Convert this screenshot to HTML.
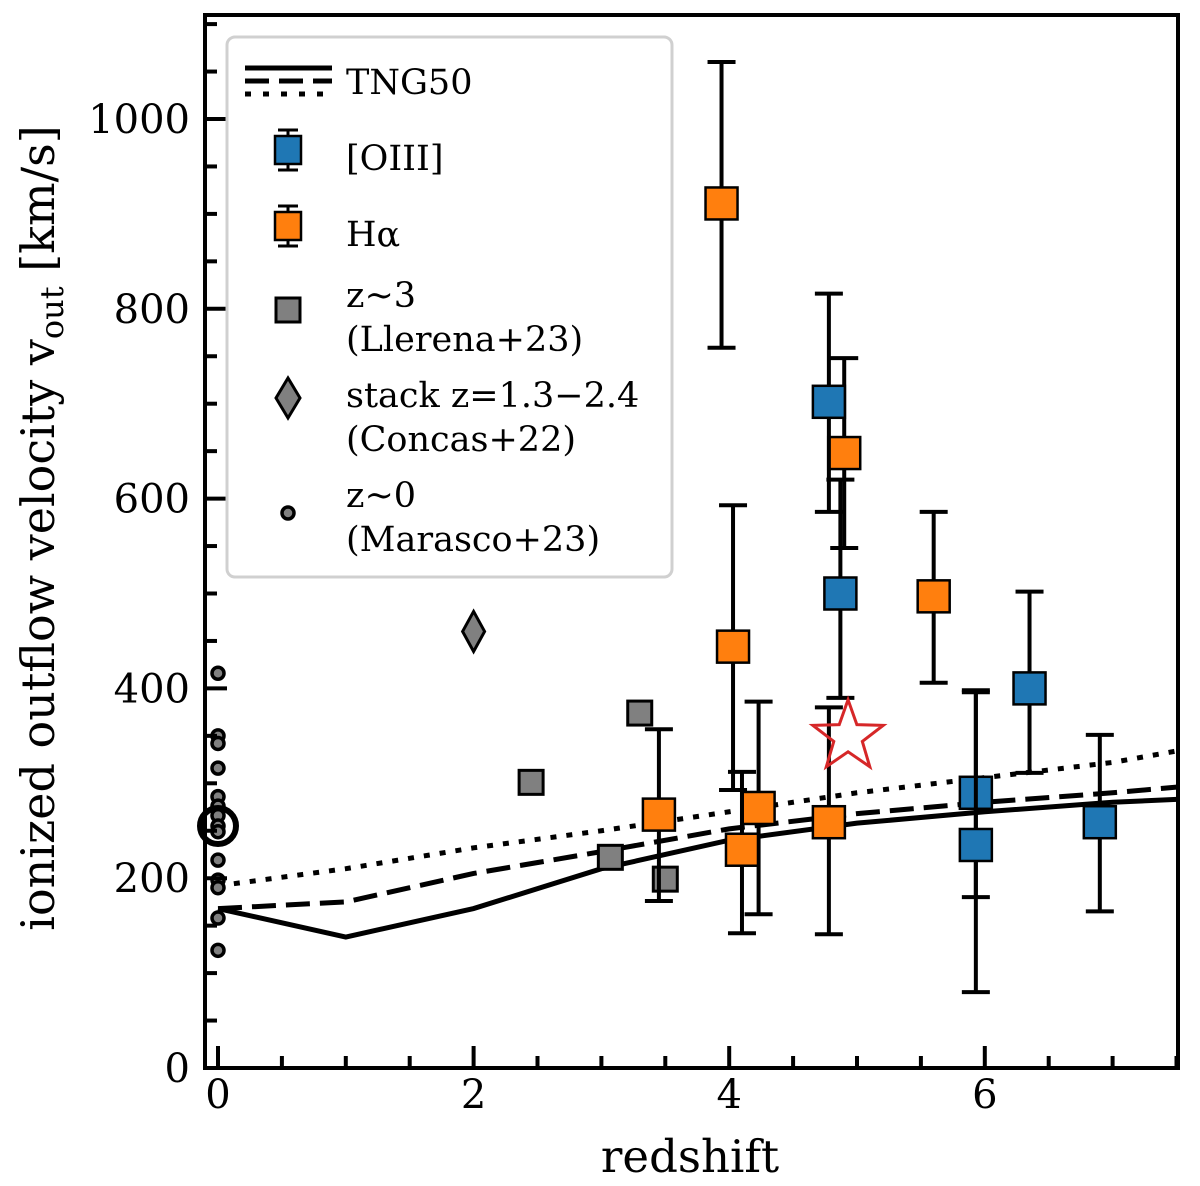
<!DOCTYPE html>
<html><head><meta charset="utf-8"><style>
html,body{margin:0;padding:0;background:#fff;}
svg text{font-family:"DejaVu Serif","Liberation Serif",serif;fill:#000;}
</style></head><body>
<svg id="chart" width="1200" height="1181" viewBox="0 0 1200 1181" xmlns="http://www.w3.org/2000/svg">
<g id="lines"></g>
<g id="marks"></g>
<g id="axes"></g>
<g id="legend"></g>
</svg>
<script>
// ---- data ----
const marascoV = [416,350,342,316,286,276,266,255,249,219,198,190,158,124];
const marascoMedian = 255;
const oiiiZ = [4.78,4.87,6.35,5.93,5.93,6.9];
const oiiiV = [702,500,400,290,235,259];
const oiiiHi = [816,620,502,398,396,351];
const oiiiLo = [586,390,311,180,80,165];
const haZ = [3.94,4.03,4.23,4.1,3.45,4.78,5.6,4.9];
const haV = [911,444,274,230,267,259,497,648];
const haHi = [1060,593,386,312,357,380,586,748];
const haLo = [759,293,162,142,176,141,406,548];
const llerenaZ = [3.3,2.45,3.07,3.5];
const llerenaV = [374,301,222,199];
const concasZ = [2.0];
const concasV = [460];
const starZ = [4.93];
const starV = [349];
const tngZ = [0,1,2,3,4,5,6,7,7.5];
const tngSolid = [168,138,168,210,240,258,270,280,283];
const tngDashed = [168,175,205,228,252,268,280,290,296];
const tngDotted = [192,210,232,250,270,290,306,322,334];
const xTicks = [0,2,4,6];
const yTicks = [0,200,400,600,800,1000];

// ---- axes ----
const L=205,R=1178,T=15,B=1068;
const xs=z=>218+z*127.8;
const ys=v=>1068-v*0.949;
const NS="http://www.w3.org/2000/svg";
function mk(tag,attrs,parent){const e=document.createElementNS(NS,tag);for(const k in attrs)e.setAttribute(k,attrs[k]);parent.appendChild(e);return e;}
const gL=document.getElementById('lines'),gM=document.getElementById('marks'),gA=document.getElementById('axes'),gG=document.getElementById('legend');

function poly(vals,dash,name){
  const p=mk('polyline',{points:tngZ.map((z,i)=>xs(z)+','+ys(vals[i])).join(' '),fill:'none',stroke:'#000','stroke-width':5,'stroke-dasharray':dash},gL);
  
  
}
poly(tngSolid,'none','tng50-solid-line');
poly(tngDashed,'24,10','tng50-dashed-line');
poly(tngDotted,'6,10','tng50-dotted-line');

marascoV.forEach(v=>{
  const c=mk('circle',{cx:xs(0),cy:ys(v),r:6,fill:'#808080',stroke:'#000','stroke-width':3.5},gM);
  
  
});
const big=mk('circle',{cx:xs(0),cy:ys(marascoMedian),r:18,fill:'none',stroke:'#000','stroke-width':6},gM);



function errSquares(Z,V,H,Lo,color,name){
  Z.forEach((z,i)=>{
    const x=xs(z);
    const g=mk('g',{},gM);
    
    
    mk('line',{x1:x,x2:x,y1:ys(H[i]),y2:ys(Lo[i]),stroke:'#000','stroke-width':4},g);
    mk('line',{x1:x-14,x2:x+14,y1:ys(H[i]),y2:ys(H[i]),stroke:'#000','stroke-width':4},g);
    mk('line',{x1:x-14,x2:x+14,y1:ys(Lo[i]),y2:ys(Lo[i]),stroke:'#000','stroke-width':4},g);
    mk('rect',{x:x-16,y:ys(V[i])-16,width:32,height:32,fill:color,stroke:'#000','stroke-width':2.5},g);
  });
}
llerenaZ.forEach((z,i)=>{
  const r=mk('rect',{x:xs(z)-12,y:ys(llerenaV[i])-12,width:24,height:24,fill:'#808080',stroke:'#000','stroke-width':3},gM);
  
  
});
concasZ.forEach((z,i)=>{
  const x=xs(z),y=ys(concasV[i]);
  const d=mk('polygon',{points:`${x},${y-20} ${x+11},${y} ${x},${y+20} ${x-11},${y}`,fill:'#808080',stroke:'#000','stroke-width':3},gM);
  
  
});
errSquares(haZ,haV,haHi,haLo,'#ff7f0e','halpha-point');
errSquares(oiiiZ,oiiiV,oiiiHi,oiiiLo,'#1f77b4','oiii-point');
starZ.forEach((z,i)=>{
  const cx=xs(z),cy=ys(starV[i]);let pts=[];
  for(let k=0;k<10;k++){const a=-Math.PI/2+k*Math.PI/5,r=k%2?15:37;pts.push((cx+r*Math.cos(a))+','+(cy+r*Math.sin(a)));}
  const s=mk('polygon',{points:pts.join(' '),fill:'none',stroke:'#d62728','stroke-width':3},gM);
  
  
});

// frame & ticks
mk('rect',{x:L,y:T,width:R-L,height:B-T,fill:'none',stroke:'#000','stroke-width':4},gA);
for(let z=0;z<=7.5;z+=0.5){
  const major=xTicks.includes(z);
  mk('line',{x1:xs(z),x2:xs(z),y1:B,y2:B-(major?22:12),stroke:'#000','stroke-width':4},gA);
}
xTicks.forEach(z=>{
  const t=mk('text',{x:xs(z),y:1108,'font-size':40,'text-anchor':'middle'},gA);t.textContent=z;
  
  
});
for(let v=0;v<=1100;v+=50){
  const major=v%200===0;
  mk('line',{x1:L,x2:L+(major?22:12),y1:ys(v),y2:ys(v),stroke:'#000','stroke-width':4},gA);
}
yTicks.forEach(v=>{
  const t=mk('text',{x:190,y:ys(v)+14,'font-size':40,'text-anchor':'end'},gA);t.textContent=v;
  
  
});
const xl=mk('text',{x:690,y:1172,'font-size':45,'text-anchor':'middle'},gA);xl.textContent='redshift';


const yl=mk('text',{x:0,y:0,'font-size':46,'text-anchor':'middle',transform:'translate(54,528) rotate(-90)'},gA);
yl.innerHTML='ionized outflow velocity v<tspan font-size="32" dy="9">out</tspan><tspan dy="-9"> [km/s]</tspan>';



// legend
mk('rect',{x:227,y:37,width:445,height:540,rx:8,fill:'#fff','fill-opacity':0.9,stroke:'#d0d0d0','stroke-width':3},gG);
mk('line',{x1:245,x2:332,y1:68,y2:68,stroke:'#000','stroke-width':5},gG);
mk('line',{x1:245,x2:332,y1:81,y2:81,stroke:'#000','stroke-width':5,'stroke-dasharray':'24,10'},gG);
mk('line',{x1:245,x2:332,y1:94,y2:94,stroke:'#000','stroke-width':5,'stroke-dasharray':'6,12'},gG);
function ltext(x,y,s,name){const t=mk('text',{x:x,y:y,'font-size':35},gG);t.textContent=s;return t;}
ltext(346,94,'TNG50','legend-tng50');
function lsq(y,c){mk('line',{x1:288,x2:288,y1:y-20,y2:y+20,stroke:'#000','stroke-width':3},gG);
 mk('line',{x1:278,x2:298,y1:y-20,y2:y-20,stroke:'#000','stroke-width':3},gG);
 mk('line',{x1:278,x2:298,y1:y+20,y2:y+20,stroke:'#000','stroke-width':3},gG);
 mk('rect',{x:275,y:y-14,width:26,height:28,fill:c,stroke:'#000','stroke-width':2.5},gG);}
lsq(150,'#1f77b4');ltext(346,170,'[OIII]','legend-oiii');
lsq(226,'#ff7f0e');ltext(346,246,'Hα','legend-halpha');
mk('rect',{x:276,y:298,width:24,height:24,fill:'#808080',stroke:'#000','stroke-width':3},gG);
ltext(346,307,'z~3','legend-llerena');ltext(346,351,'(Llerena+23)','legend-llerena-ref');
mk('polygon',{points:'288,378 300,398 288,418 276,398',fill:'#808080',stroke:'#000','stroke-width':3},gG);
ltext(346,407,'stack z=1.3−2.4','legend-concas');ltext(346,451,'(Concas+22)','legend-concas-ref');
mk('circle',{cx:288,cy:513,r:6,fill:'#808080',stroke:'#000','stroke-width':3.5},gG);
ltext(346,507,'z~0','legend-marasco');ltext(346,551,'(Marasco+23)','legend-marasco-ref');
</script>
</body></html>
